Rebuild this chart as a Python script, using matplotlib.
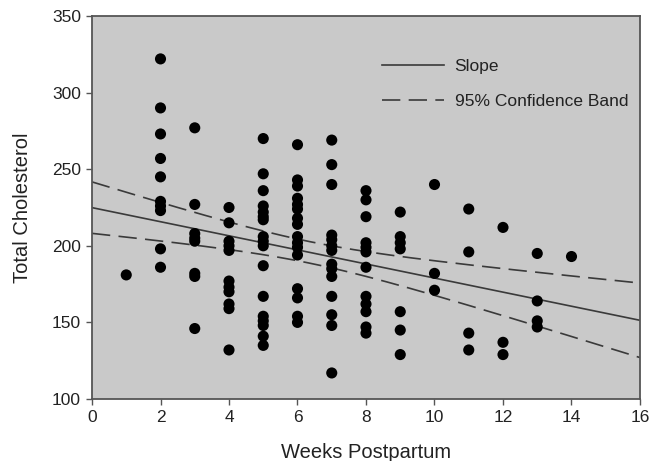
import numpy as np
import matplotlib
matplotlib.use("Agg")
import matplotlib.pyplot as plt
from matplotlib.lines import Line2D

plt.rcParams['font.family'] = ['Liberation Sans', 'DejaVu Sans']

# ---- data ----
weeks = [1, 2, 3, 4, 5, 6, 7, 8, 9, 10, 11, 12, 13, 14]
chol_by_week = [
    [181],
    [322, 290, 273, 257, 245, 229, 226, 223, 198, 186],
    [277, 227, 208, 205, 203, 182, 180, 146],
    [225, 215, 203, 200, 197, 177, 173, 170, 162, 159, 132],
    [270, 247, 236, 226, 222, 219, 217, 206, 203, 200, 187, 167, 154, 151, 148, 141, 135],
    [266, 243, 239, 231, 227, 224, 218, 214, 206, 202, 199, 194, 172, 166, 154, 150],
    [269, 253, 240, 207, 204, 200, 197, 188, 185, 180, 167, 155, 148, 117],
    [236, 230, 219, 202, 199, 196, 186, 167, 162, 157, 147, 143],
    [222, 206, 202, 198, 157, 145, 129],
    [240, 182, 171],
    [224, 196, 143, 132],
    [212, 137, 129],
    [195, 164, 151, 147],
    [193],
]
x_ticks = [0, 2, 4, 6, 8, 10, 12, 14, 16]
y_ticks = [100, 150, 200, 250, 300, 350]
legend_labels = ["Slope", "95% Confidence Band"]
x_label = "Weeks Postpartum"
y_label = "Total Cholesterol"

x = np.concatenate([[w] * len(v) for w, v in zip(weeks, chol_by_week)]).astype(float)
y = np.concatenate(chol_by_week).astype(float)

# linear regression and 95% confidence band for the mean
slope, intercept = np.polyfit(x, y, 1)
n = len(x)
resid = y - (intercept + slope * x)
s = np.sqrt(np.sum(resid ** 2) / (n - 2))
xbar = x.mean()
sxx = np.sum((x - xbar) ** 2)
t_crit = 1.982
xs = np.linspace(0, 16, 200)
fit = intercept + slope * xs
half = t_crit * s * np.sqrt(1.0 / n + (xs - xbar) ** 2 / sxx)

# ---- figure ----
fig = plt.figure(figsize=(6.58, 4.61), dpi=100)
ax = fig.add_axes([92 / 658, 62 / 461, 548 / 658, 383 / 461])
ax.set_facecolor('#c9c9c9')

line_col = '#3a3a3a'
dash = (0, (11, 5))
ax.plot(xs, fit, color=line_col, lw=1.2, zorder=2)
ax.plot(xs, fit + half, color=line_col, lw=1.2, linestyle=dash, zorder=2)
ax.plot(xs, fit - half, color=line_col, lw=1.2, linestyle=dash, zorder=2)
ax.scatter(x, y, s=64, color='black', edgecolors='none', zorder=3)

ax.set_xlim(0, 16)
ax.set_ylim(100, 350)
ax.set_xticks(x_ticks)
ax.set_yticks(y_ticks)
ax.tick_params(direction='out', length=4, width=1.0, color='#555555',
               labelsize=12.5, labelcolor='#222222', pad=4)
for sp in ax.spines.values():
    sp.set_color('#555555')
    sp.set_linewidth(1.3)

ax.set_xlabel(x_label, fontsize=14.5, color='#222222', labelpad=13)
ax.set_ylabel(y_label, fontsize=14.5, color='#222222', labelpad=14)

handles = [Line2D([], [], color=line_col, lw=1.2),
           Line2D([], [], color=line_col, lw=1.2, linestyle=dash)]
ax.legend(handles, legend_labels, loc='upper left', bbox_to_anchor=(0.5, 0.93),
          frameon=False, fontsize=12.5, handlelength=3.6, handletextpad=0.6,
          labelspacing=1.15, labelcolor='#222222')

fig.savefig('out.png', dpi=100)
